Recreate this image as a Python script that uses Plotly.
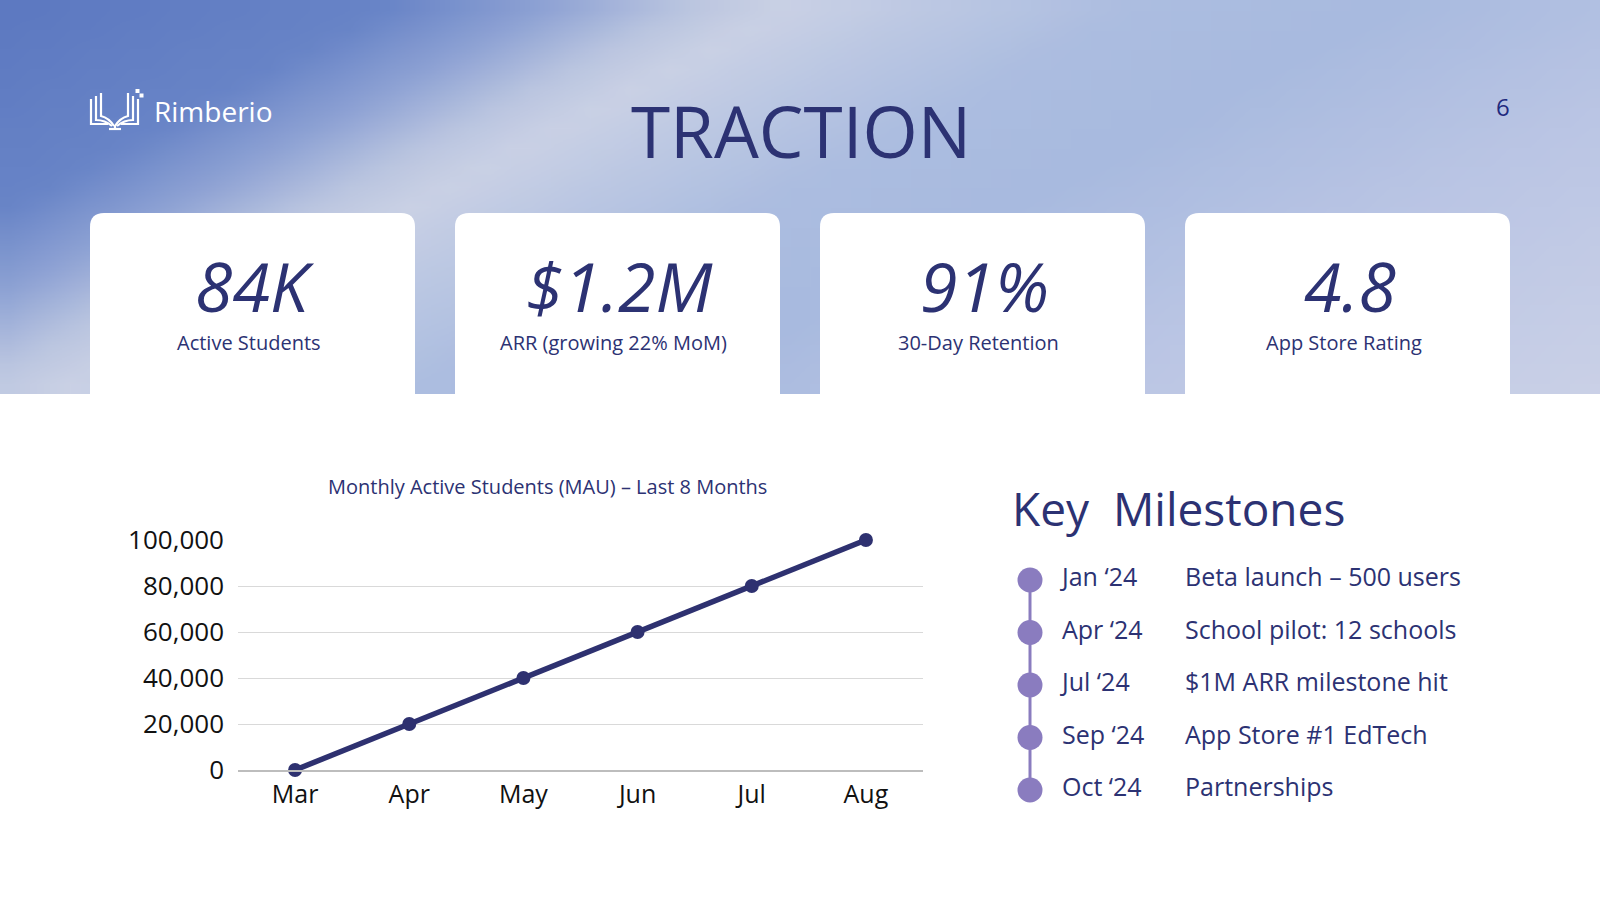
import zlib, struct, base64
import plotly.graph_objects as go

# ---------------- data ----------------
months = ["Mar", "Apr", "May", "Jun", "Jul", "Aug"]
mau = [0, 20000, 40000, 60000, 80000, 100000]
y_ticks = [0, 20000, 40000, 60000, 80000, 100000]

kpi_values = ["84K", "$1.2M", "91%", "4.8"]
kpi_labels = ["Active Students", "ARR (growing 22% MoM)", "30-Day Retention", "App Store Rating"]

milestone_dates = ["Jan \u201824", "Apr \u201824", "Jul \u201824", "Sep \u201824", "Oct \u201824"]
milestone_text = ["Beta launch \u2013 500 users", "School pilot: 12 schools",
                  "$1M ARR milestone hit", "App Store #1 EdTech", "Partnerships"]

# ---------------- style ----------------
W, H = 1600, 900
NAVY = "#2c3273"
LINE = "#2e3170"
LAV = "#8a7cbf"
FONT = "Open Sans"
HEADER_H = 394


# ---------------- background gradient (small PNG, stretched) ----------------
def make_png(w, h, fn):
    raw = bytearray()
    for j in range(h):
        raw.append(0)
        for i in range(w):
            raw.extend(bytes(fn(i, j)))

    def chunk(t, d):
        return struct.pack(">I", len(d)) + t + d + struct.pack(">I", zlib.crc32(t + d) & 0xffffffff)

    png = (b"\x89PNG\r\n\x1a\n" + chunk(b"IHDR", struct.pack(">IIBBBBB", w, h, 8, 2, 0, 0, 0))
           + chunk(b"IDAT", zlib.compress(bytes(raw))) + chunk(b"IEND", b""))
    return "data:image/png;base64," + base64.b64encode(png).decode()


stops = [(0, (92, 120, 192)), (400, (104, 132, 199)), (560, (142, 162, 212)),
         (700, (186, 197, 224)), (800, (202, 209, 229)), (950, (188, 200, 227)),
         (1150, (172, 189, 224)), (1400, (168, 186, 223)), (1800, (186, 197, 228)),
         (2400, (204, 210, 231))]


def grad(i, j, gw=80, gh=20):
    x = (i + 0.5) * W / gw
    y = (j + 0.5) * HEADER_H / gh
    u = x + 1.9 * y
    for (u0, c0), (u1, c1) in zip(stops[:-1], stops[1:]):
        if u <= u1:
            t = max(0.0, (u - u0) / (u1 - u0))
            return tuple(int(round(a + (b - a) * t)) for a, b in zip(c0, c1))
    return stops[-1][1]


bg_src = make_png(80, 20, grad)

fig = go.Figure()

# main line chart
fig.add_trace(go.Scatter(
    x=months, y=mau, mode="lines+markers",
    line=dict(color=LINE, width=5.5),
    marker=dict(color=LINE, size=14),
    cliponaxis=False, hoverinfo="skip", showlegend=False,
))

# milestones timeline
idx = list(range(len(milestone_dates)))
DOT_X, DATE_X, DESC_X = 1030, 1062, 1185
fig.add_trace(go.Scatter(
    x=[DOT_X] * len(idx), y=idx, mode="lines+markers",
    line=dict(color=LAV, width=3), marker=dict(color=LAV, size=25),
    xaxis="x2", yaxis="y2", cliponaxis=False, hoverinfo="skip", showlegend=False,
))
fig.add_trace(go.Scatter(
    x=[DATE_X] * len(idx), y=idx, mode="text", text=milestone_dates,
    textposition="middle right", textfont=dict(family=FONT, size=25, color=NAVY),
    xaxis="x2", yaxis="y2", cliponaxis=False, hoverinfo="skip", showlegend=False,
))
fig.add_trace(go.Scatter(
    x=[DESC_X] * len(idx), y=idx, mode="text", text=milestone_text,
    textposition="middle right", textfont=dict(family=FONT, size=25, color=NAVY),
    xaxis="x2", yaxis="y2", cliponaxis=False, hoverinfo="skip", showlegend=False,
))
# overlay pixel axis (for decorations)
fig.add_trace(go.Scatter(x=[], y=[], xaxis="x3", yaxis="y3", showlegend=False))

shapes = []
annotations = []

# cards
card_x0 = [90, 455, 820, 1185]
CW, CT, R = 325, 213, 14
for k, x0 in enumerate(card_x0):
    x1 = x0 + CW
    path = (f"M {x0},{HEADER_H} L {x0},{CT + R} Q {x0},{CT} {x0 + R},{CT} "
            f"L {x1 - R},{CT} Q {x1},{CT} {x1},{CT + R} L {x1},{HEADER_H} Z")
    shapes.append(dict(type="path", path=path, xref="x3", yref="y3",
                       fillcolor="white", line=dict(width=0), layer="below"))
    cx = x0 + CW / 2
    annotations.append(dict(x=cx + 2, y=285, xref="x3", yref="y3", text=kpi_values[k],
                            showarrow=False, xanchor="center", yanchor="middle",
                            font=dict(family=FONT, size=68, color=NAVY, style="italic")))
    annotations.append(dict(x=cx - 4, y=342, xref="x3", yref="y3", text=kpi_labels[k],
                            showarrow=False, xanchor="center", yanchor="middle",
                            font=dict(family=FONT, size=20, color=NAVY)))

# logo icon
icon_paths = [
    "M 91,99 L 91,124 L 108,124",
    "M 96,96 L 96,120 Q 105,120 112,126",
    "M 101,93 L 101,116 Q 109,118 114,126",
    "M 138,99 L 138,124 L 121,124",
    "M 133,96 L 133,120 Q 124,120 117,126",
    "M 128,93 L 128,116 Q 120,118 115,126",
    "M 109,129 L 121,129",
    "M 115,125 L 115,129",
]
for p in icon_paths:
    shapes.append(dict(type="path", path=p, xref="x3", yref="y3",
                       line=dict(color="white", width=2.2), layer="above"))
shapes.append(dict(type="rect", x0=135.5, x1=139.5, y0=89, y1=93, xref="x3", yref="y3",
                   fillcolor="white", line=dict(width=0)))
shapes.append(dict(type="rect", x0=139.5, x1=143.5, y0=93.5, y1=97.5, xref="x3", yref="y3",
                   fillcolor="white", line=dict(width=0)))

annotations += [
    dict(x=152, y=111, xref="x3", yref="y3", text="Rimberio", showarrow=False,
         xanchor="left", yanchor="middle", font=dict(family=FONT, size=28, color="white")),
    dict(x=801, y=130, xref="x3", yref="y3", text="TRACTION", showarrow=False,
         xanchor="center", yanchor="middle", font=dict(family=FONT, size=71, color=NAVY)),
    dict(x=1503, y=106, xref="x3", yref="y3", text="6", showarrow=False,
         xanchor="center", yanchor="middle", font=dict(family=FONT, size=24, color="#1f2a7e")),
    dict(x=547, y=486, xref="x3", yref="y3", text="Monthly Active Students (MAU) \u2013 Last 8 Months",
         showarrow=False, xanchor="center", yanchor="middle",
         font=dict(family=FONT, size=20, color=NAVY)),
    dict(x=1010, y=508, xref="x3", yref="y3", text="Key  Milestones", showarrow=False,
         xanchor="left", yanchor="middle", font=dict(family=FONT, size=46, color=NAVY)),
]

fig.update_layout(
    width=W, height=H,
    margin=dict(l=0, r=0, t=0, b=0, pad=0, autoexpand=False),
    paper_bgcolor="white", plot_bgcolor="rgba(0,0,0,0)",
    showlegend=False,
    images=[dict(source=bg_src, xref="paper", yref="paper", x=0, y=1,
                 sizex=1, sizey=HEADER_H / H, xanchor="left", yanchor="top",
                 sizing="stretch", layer="below")],
    shapes=shapes, annotations=annotations,
    xaxis=dict(domain=[238 / W, 923 / W], type="category", range=[-0.5, 5.5],
               showgrid=False, showline=True, linecolor="#bdbdbd", linewidth=1.5,
               ticks="", tickfont=dict(family=FONT, size=25, color="#111111"),
               ticklabelstandoff=1, fixedrange=True, automargin=False),
    yaxis=dict(domain=[(H - 770) / H, (H - 540) / H], range=[0, 100000],
               tickvals=y_ticks, tickformat=",", showgrid=True, gridcolor="#d9d9d9",
               gridwidth=1, zeroline=False, showline=False, ticks="",
               tickfont=dict(family=FONT, size=26, color="#111111"),
               ticklabelstandoff=13, fixedrange=True, automargin=False),
    xaxis2=dict(domain=[0, 1], range=[0, W], visible=False, fixedrange=True, automargin=False),
    yaxis2=dict(domain=[(H - 790) / H, (H - 580) / H], range=[4, 0], visible=False,
                anchor="x2", fixedrange=True, automargin=False),
    xaxis3=dict(domain=[0, 1], range=[0, W], visible=False, fixedrange=True, automargin=False),
    yaxis3=dict(domain=[0, 1], range=[H, 0], visible=False, anchor="x3", fixedrange=True,
                automargin=False),
)

post = ("document.body.style.margin='0';document.body.style.padding='0';"
        "document.documentElement.style.overflow='hidden';"
        "var gd=document.getElementById('{plot_id}');"
        "gd.style.position='absolute';gd.style.left='0px';gd.style.top='0px';")
fig.write_html("out.html", config={"displayModeBar": False}, post_script=post)
